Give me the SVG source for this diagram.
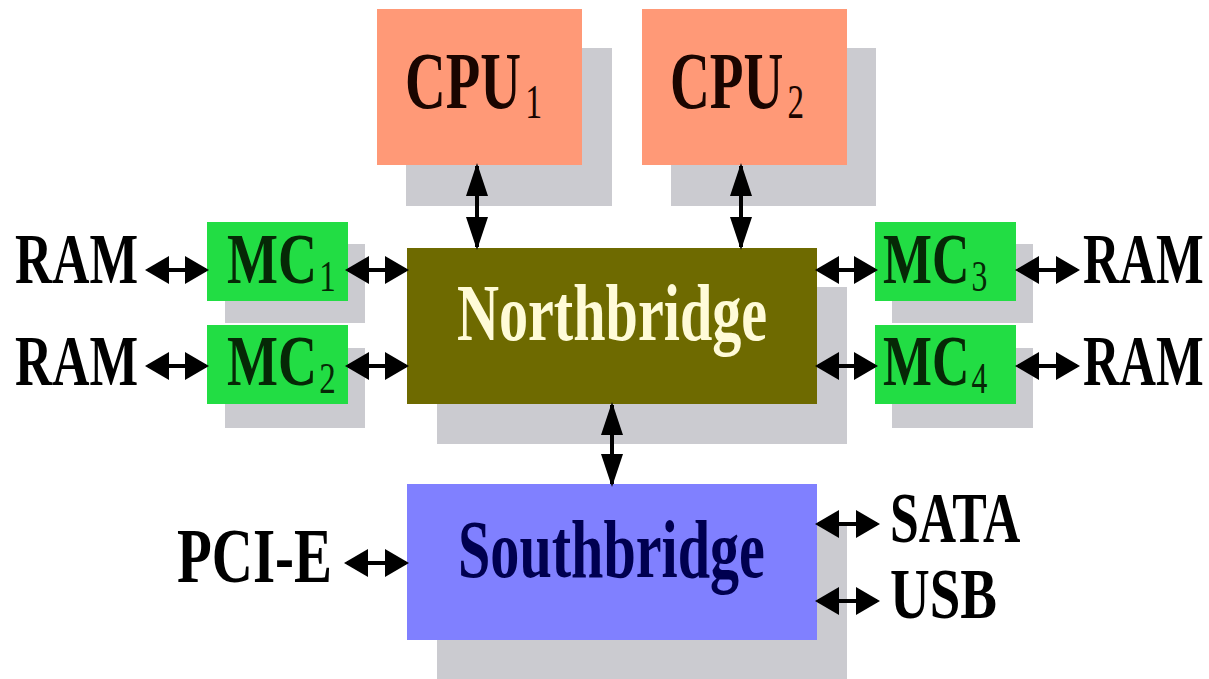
<svg xmlns="http://www.w3.org/2000/svg" width="1209" height="679" viewBox="0 0 1209 679">
<defs>
<style>
.sh{fill:#cbcbd0}
.cpu{fill:#ff9977}
.mc{fill:#22dd44}
.nb{fill:#6e6a00}
.sb{fill:#8080ff}
.t{font-family:"Liberation Serif","Times New Roman",serif;font-weight:bold}
.sub{font-weight:normal}
.blk{fill:#000}
.cpuT{fill:#1a0500}
.mcT{fill:#062806}
.nbT{fill:#fffbd8}
.sbT{fill:#000050}
.ln{stroke:#000;stroke-width:4;fill:none}
.h{marker-start:url(#ah);marker-end:url(#ah)}
.v{marker-start:url(#av);marker-end:url(#av)}
</style>
<marker id="ah" markerUnits="userSpaceOnUse" markerWidth="26" markerHeight="30" refX="21" refY="14" orient="auto-start-reverse" overflow="visible">
<path d="M0,0 L24,14 L0,28 Z" fill="#000"/>
</marker>
<marker id="av" markerUnits="userSpaceOnUse" markerWidth="34" markerHeight="24" refX="30" refY="11" orient="auto-start-reverse" overflow="visible">
<path d="M0,0 L33,11 L0,22 Z" fill="#000"/>
</marker>
</defs>
<rect width="1209" height="679" fill="#fff"/>

<g id="cpu1">
<rect class="sh" x="406" y="48" width="206" height="158"/>
<rect class="cpu" x="377" y="9" width="205" height="156"/>
<text class="t cpuT" font-size="80" transform="translate(405,108) scale(0.706,1)">CPU<tspan class="sub" font-size="48" dx="6" dy="10">1</tspan></text>
</g>
<g id="cpu2">
<rect class="sh" x="671" y="48" width="205" height="158"/>
<rect class="cpu" x="642" y="9" width="205" height="156"/>
<text class="t cpuT" font-size="80" transform="translate(670,108) scale(0.69,1)">CPU<tspan class="sub" font-size="48" dx="6" dy="10">2</tspan></text>
</g>

<g id="northbridge">
<rect class="sh" x="437" y="287" width="410" height="157"/>
<rect class="nb" x="407" y="248" width="410" height="156"/>
<text class="t nbT" font-size="80" transform="translate(457,340) scale(0.727,1)">Northbridge</text>
</g>

<g id="southbridge">
<rect class="sh" x="437" y="523" width="410" height="160"/>
<rect class="sb" x="407" y="484" width="410" height="156"/>
<text class="t sbT" font-size="82" transform="translate(458,577) scale(0.709,1)">Southbridge</text>
</g>

<g id="mc1">
<rect class="sh" x="225" y="244" width="140" height="79"/>
<rect class="mc" x="207" y="222" width="141" height="79"/>
<text class="t mcT" font-size="72" transform="translate(227,283) scale(0.75,1)">MC<tspan class="sub" font-size="44" dx="3" dy="8">1</tspan></text>
</g>
<g id="mc2">
<rect class="sh" x="225" y="348" width="140" height="80"/>
<rect class="mc" x="207" y="325" width="141" height="79"/>
<text class="t mcT" font-size="72" transform="translate(227,385) scale(0.75,1)">MC<tspan class="sub" font-size="44" dx="3" dy="8">2</tspan></text>
</g>
<g id="mc3">
<rect class="sh" x="892" y="244" width="141" height="79"/>
<rect class="mc" x="875" y="222" width="141" height="79"/>
<text class="t mcT" font-size="72" transform="translate(883,283) scale(0.72,1)">MC<tspan class="sub" font-size="44" dx="3" dy="8">3</tspan></text>
</g>
<g id="mc4">
<rect class="sh" x="892" y="348" width="141" height="80"/>
<rect class="mc" x="875" y="325" width="141" height="79"/>
<text class="t mcT" font-size="72" transform="translate(883,385) scale(0.72,1)">MC<tspan class="sub" font-size="44" dx="3" dy="8">4</tspan></text>
</g>

<g id="ram1"><text class="t blk" font-size="72" transform="translate(15,283) scale(0.7155,1)">RAM</text></g>
<g id="ram2"><text class="t blk" font-size="72" transform="translate(15,385) scale(0.7155,1)">RAM</text></g>
<g id="ram3"><text class="t blk" font-size="72" transform="translate(1083,283) scale(0.702,1)">RAM</text></g>
<g id="ram4"><text class="t blk" font-size="72" transform="translate(1083,385) scale(0.702,1)">RAM</text></g>
<g id="pcie"><text class="t blk" font-size="78" transform="translate(177,582) scale(0.73,1)">PCI-E</text></g>
<g id="sata"><text class="t blk" font-size="72" transform="translate(890,542) scale(0.719,1)">SATA</text></g>
<g id="usb"><text class="t blk" font-size="72" transform="translate(890,618) scale(0.764,1)">USB</text></g>

<g id="connectors">
<line class="ln h" x1="148" y1="270" x2="206" y2="270"/>
<line class="ln h" x1="348" y1="270" x2="406" y2="270"/>
<line class="ln h" x1="148" y1="366" x2="206" y2="366"/>
<line class="ln h" x1="348" y1="366" x2="406" y2="366"/>
<line class="ln h" x1="818" y1="270" x2="875" y2="270"/>
<line class="ln h" x1="1018" y1="270" x2="1077" y2="270"/>
<line class="ln h" x1="818" y1="366" x2="875" y2="366"/>
<line class="ln h" x1="1018" y1="366" x2="1077" y2="366"/>
<line class="ln h" x1="347" y1="563" x2="406" y2="563"/>
<line class="ln h" x1="818" y1="524" x2="877" y2="524"/>
<line class="ln h" x1="818" y1="601" x2="877" y2="601"/>
<line class="ln v" x1="477" y1="166" x2="477" y2="247"/>
<line class="ln v" x1="741" y1="166" x2="741" y2="247"/>
<line class="ln v" x1="612" y1="405" x2="612" y2="484"/>
</g>
</svg>
